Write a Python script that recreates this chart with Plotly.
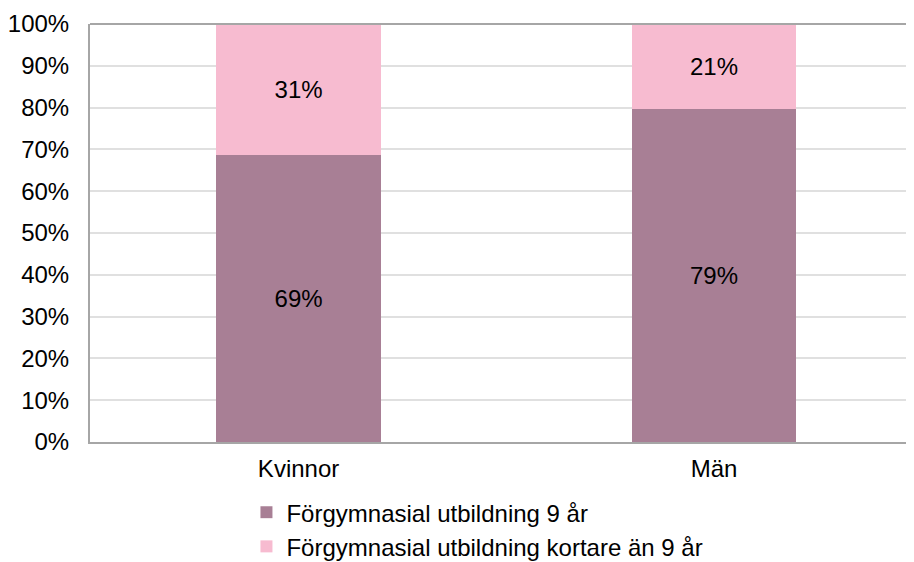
import plotly.graph_objects as go

categories = ["Kvinnor", "Män"]
series_names = ["Förgymnasial utbildning 9 år", "Förgymnasial utbildning kortare än 9 år"]
nine_years = [68.7, 79.6]
shorter = [31.3, 20.4]
labels_nine = ["69%", "79%"]
labels_shorter = ["31%", "21%"]
tick_vals = list(range(0, 101, 10))
tick_text = [f"{v}%" for v in tick_vals]

colors = ["#A87F95", "#F7BBD0"]
font = dict(family="Liberation Sans, Arial, sans-serif", size=24, color="#000000")

fig = go.Figure()
fig.add_trace(go.Bar(x=categories, y=nine_years, name=series_names[0], width=0.397,
                     marker=dict(color=colors[0], line=dict(width=0)),
                     text=labels_nine, textposition="inside", insidetextanchor="middle",
                     textfont=font, hoverinfo="skip"))
fig.add_trace(go.Bar(x=categories, y=shorter, name=series_names[1], width=0.397,
                     marker=dict(color=colors[1], line=dict(width=0)),
                     text=labels_shorter, textposition="inside", insidetextanchor="middle",
                     textfont=font, hoverinfo="skip"))

fig.update_layout(
    barmode="stack",
    width=914, height=562,
    margin=dict(l=82, r=15, t=16, b=128, autoexpand=False),
    plot_bgcolor="white", paper_bgcolor="white",
    font=font,
    showlegend=True,
    legend=dict(orientation="v", x=0.1915, xanchor="left", y=-0.115, yanchor="top",
                font=font, itemwidth=30, traceorder="normal", tracegroupgap=0),
    uniformtext=dict(mode="show", minsize=18),
)
fig.update_xaxes(range=[-0.502, 1.4645],
                 showline=True, linecolor="#A6A6A6", linewidth=2, ticks="", showgrid=False,
                 tickfont=font, automargin=False, ticklabelstandoff=4)
fig.update_yaxes(range=[0, 100], tickvals=tick_vals, ticktext=tick_text,
                 showgrid=True, gridcolor="#E0E0E0", gridwidth=1.5,
                 showline=True, linecolor="#A6A6A6", linewidth=2, ticks="",
                 tickfont=font, zeroline=False, automargin=False, ticklabelstandoff=14)
fig.add_shape(type="line", xref="paper", yref="paper", x0=0, x1=1, y0=1, y1=1,
              line=dict(color="#A6A6A6", width=2))

fig.write_html("out.html")
